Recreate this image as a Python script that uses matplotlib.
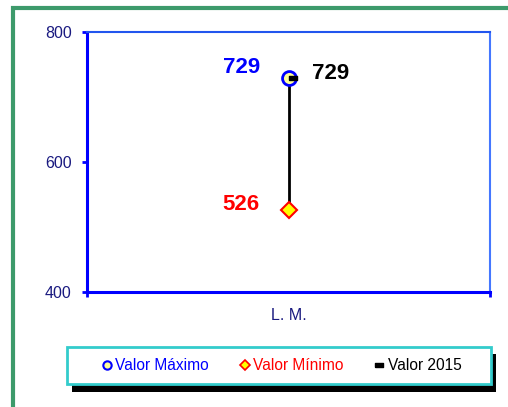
import matplotlib.pyplot as plt
from matplotlib.patches import Rectangle
from matplotlib.lines import Line2D
from matplotlib.path import Path

plt.rcParams['font.family'] = ['Liberation Sans', 'DejaVu Sans']

# datos
categorias = ['L. M.']
valor_maximo = [729]
valor_minimo = [526]
valor_2015 = [729]

W, H = 508, 407
fig = plt.figure(figsize=(W / 100, H / 100), dpi=100)

def fx(px):
    return px / W

def fy(py):
    return 1 - py / H

# marco verde
fig.add_artist(Rectangle((fx(13), fy(412)), fx(520) - fx(13), fy(7.5) - fy(412),
                         transform=fig.transFigure, fill=False,
                         edgecolor='#3d9a6b', lw=3, zorder=0))

ax = fig.add_axes([fx(87), fy(292), fx(490) - fx(87), fy(32) - fy(292)])

x = list(range(len(categorias)))

# linea entre min y max
for i in x:
    ax.plot([i, i], [valor_minimo[i], valor_maximo[i]], color='black', lw=2, zorder=2)

ax.plot(x, valor_maximo, 'o', ms=10, mfc='#ffff99', mec='#0000ff', mew=2, zorder=3)
ax.plot(x, valor_minimo, 'D', ms=8.5, mfc='#ffff00', mec='#ff0000', mew=1.5, zorder=3)
barra = Path([(0, -0.3), (1, -0.3), (1, 0.3), (0, 0.3), (0, -0.3)])
ax.plot(x, valor_2015, marker=barra, ls='none', ms=11, color='black', zorder=4)

for i in x:
    ax.annotate(str(valor_maximo[i]), (i, valor_maximo[i]), xytext=(-34, 8),
                textcoords='offset points', ha='center', va='center',
                color='#0000ff', fontsize=16, fontweight='bold')
    ax.annotate(str(valor_minimo[i]), (i, valor_minimo[i]), xytext=(-34, 4),
                textcoords='offset points', ha='center', va='center',
                color='#ff0000', fontsize=16, fontweight='bold')
    ax.annotate(str(valor_2015[i]), (i, valor_2015[i]), xytext=(30, 3.5),
                textcoords='offset points', ha='center', va='center',
                color='black', fontsize=16, fontweight='bold')

ax.set_xlim(-0.5, len(categorias) - 0.5)
ax.set_ylim(400, 800)
ax.set_yticks([400, 600, 800])
ax.set_xticks(x)
ax.set_xticklabels(categorias)
ax.set_xticks([-0.5, len(categorias) - 0.5], minor=True)
ax.tick_params(axis='x', which='major', length=0, pad=11.5, labelsize=11.5, labelcolor='#1a1a80')
ax.tick_params(axis='x', which='minor', length=3.5, width=2, color='#0000ff', direction='out')
ax.tick_params(axis='y', length=3.5, width=2, color='#0000ff', pad=7.5,
               labelsize=11.5, labelcolor='#1a1a80')

ax.spines['left'].set_color('#0000ff')
ax.spines['left'].set_linewidth(2.2)
ax.spines['bottom'].set_color('#0000ff')
ax.spines['bottom'].set_linewidth(2.2)
ax.spines['top'].set_color('#2255ee')
ax.spines['top'].set_linewidth(1.5)
ax.spines['right'].set_color('#4477ff')
ax.spines['right'].set_linewidth(1.5)

# leyenda con sombra
fig.add_artist(Rectangle((fx(72), fy(392)), fx(496) - fx(72), fy(354) - fy(392),
                         transform=fig.transFigure, facecolor='black', edgecolor='none', zorder=1))
fig.add_artist(Rectangle((fx(67), fy(384)), fx(491) - fx(67), fy(347) - fy(384),
                         transform=fig.transFigure, facecolor='white',
                         edgecolor='#33cccc', lw=2, zorder=2))

handles = [
    Line2D([], [], ls='none', marker='o', ms=6, mfc='#ffff99', mec='#0000ff', mew=1.5),
    Line2D([], [], ls='none', marker='D', ms=5.5, mfc='#ffff00', mec='#ff0000', mew=1.2),
    Line2D([], [], ls='none', marker=Path([(-1, -0.45), (1, -0.45), (1, 0.45), (-1, 0.45), (-1, -0.45)]),
           ms=6, color='black'),
]
leg = fig.legend(handles, ['Valor Máximo', 'Valor Mínimo', 'Valor 2015'],
                 loc='center', bbox_to_anchor=(fx(281), fy(366)), ncol=3,
                 frameon=False, fontsize=11.2, handlelength=0.8, handletextpad=0.12,
                 columnspacing=1.92, borderpad=0)
leg.set_zorder(3)
for t, c in zip(leg.get_texts(), ['#0000ff', '#ff0000', 'black']):
    t.set_color(c)

fig.savefig('out.png', dpi=100)
